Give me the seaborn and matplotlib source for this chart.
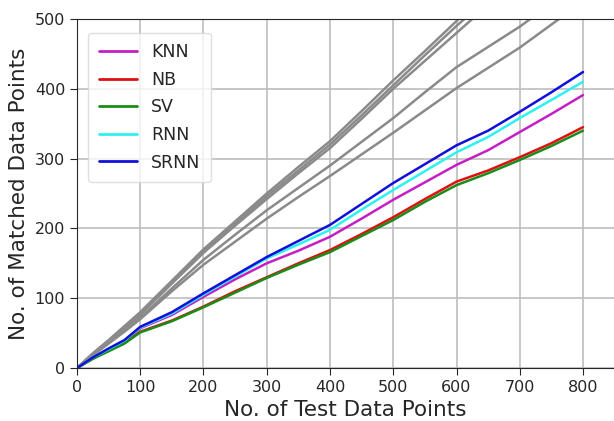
import matplotlib
matplotlib.use("Agg")
import matplotlib.pyplot as plt
import pandas as pd
import seaborn as sns

# x positions
x_pts = [0, 25, 50, 75, 100, 150, 200, 250, 300, 350, 400, 450, 500, 550, 600, 650, 700, 750, 800]

# coloured methods
knn  = [0, 14, 26, 38, 57, 76, 102, 127, 150, 168, 188, 214, 241, 266, 291, 312, 338, 364, 391]
nb   = [0, 14, 25, 36, 52, 68, 88, 110, 130, 150, 169, 192, 216, 242, 267, 283, 302, 322, 345]
sv   = [0, 13, 24, 35, 51, 67, 87, 108, 129, 148, 166, 189, 212, 238, 262, 279, 298, 318, 340]
rnn  = [0, 15, 27, 39, 58, 78, 105, 131, 157, 177, 198, 227, 255, 282, 309, 331, 358, 384, 410]
srnn = [0, 15, 28, 40, 59, 80, 107, 133, 159, 182, 205, 235, 265, 292, 319, 340, 367, 395, 424]

# grey reference curves (unlabelled)
gray1 = [0, 21, 40, 60, 80, 125, 170, 210, 250, 288, 325, 368, 412, 454, 497, 540, 582, 624, 666]
gray2 = [0, 20, 39, 59, 78, 123, 167, 207, 246, 283, 320, 362, 405, 448, 490, 530, 570, 610, 650]
gray3 = [0, 20, 38, 57, 76, 121, 165, 204, 242, 279, 315, 357, 400, 440, 480, 520, 560, 600, 640]
gray4 = [0, 19, 36, 54, 72, 114, 155, 191, 226, 258, 290, 324, 358, 395, 431, 460, 489, 522, 555]
gray5 = [0, 18, 35, 52, 70, 110, 148, 181, 214, 245, 275, 306, 337, 369, 401, 430, 459, 492, 525]

methods = ["KNN", "NB", "SV", "RNN", "SRNN"]
palette = {"KNN": "#c41fc4", "NB": "#e01010", "SV": "#1a8c1a", "RNN": "#2ef2f2", "SRNN": "#1010d8"}

df = pd.DataFrame({
    "x": x_pts * 5,
    "y": knn + nb + sv + rnn + srnn,
    "method": sum([[m] * len(x_pts) for m in methods], []),
})
df_gray = pd.DataFrame({
    "x": x_pts * 5,
    "y": gray1 + gray2 + gray3 + gray4 + gray5,
    "run": sum([[i] * len(x_pts) for i in range(5)], []),
})

sns.set_style("ticks")
fig = plt.figure(figsize=(6.14, 4.21), dpi=100)
ax = fig.add_axes([0.1254, 0.1259, 0.8746, 0.829])

sns.lineplot(data=df_gray, x="x", y="y", units="run", estimator=None,
             color="#8a8a8a", linewidth=1.8, ax=ax, legend=False)
sns.lineplot(data=df, x="x", y="y", hue="method", hue_order=methods,
             palette=palette, linewidth=1.8, ax=ax)

ax.set_xlim(0, 849)
ax.set_ylim(0, 500)
ax.set_xticks(range(0, 801, 100))
ax.set_yticks(range(0, 501, 100))
ax.grid(True, color="#bdbdbd", linewidth=1.2)
ax.spines["right"].set_visible(False)
ax.tick_params(labelsize=11.5, length=5, labelcolor="#262626")
ax.set_xlabel("No. of Test Data Points", fontsize=15.5)
ax.set_ylabel("No. of Matched Data Points", fontsize=15.5)

leg = ax.legend(loc="upper left", fontsize=12.5, handlelength=2.2,
                borderpad=0.6, labelspacing=0.55, bbox_to_anchor=(0.005, 0.985))
leg.get_frame().set_edgecolor("#d8d8d8")
for h in leg.get_lines():
    h.set_linewidth(2)

fig.savefig("out.png", dpi=100)
